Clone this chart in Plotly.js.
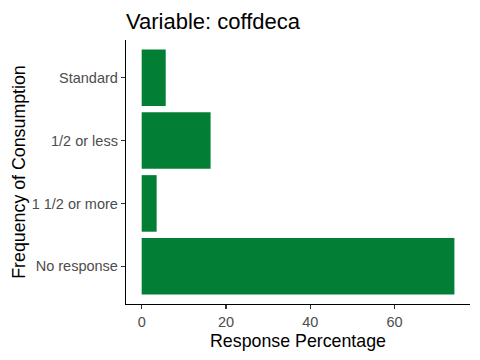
<!DOCTYPE html>
<html><head><meta charset="utf-8">
<script src="https://cdn.plot.ly/plotly-3.0.1.min.js"></script>
<style>html,body{margin:0;padding:0;background:#fff}#c{width:480px;height:360px}</style>
</head><body><div id="c"></div>
<script>
var categories = ["No response", "1 1/2 or more", "1/2 or less", "Standard"];
var percentages = [74.2, 3.55, 16.35, 5.7];
var xTicks = [0, 20, 40, 60];
var barColor = "#027f34";

var trace = {
  type: "bar", orientation: "h",
  y: categories, x: percentages,
  marker: {color: barColor}, width: 0.9, hoverinfo: "none"
};
var layout = {
  width: 480, height: 360,
  margin: {l: 126, r: 10, t: 40, b: 56},
  paper_bgcolor: "#fff", plot_bgcolor: "#fff",
  font: {family: "Liberation Sans, Arial, sans-serif"},
  title: {text: "Variable: coffdeca", x: 126/480, xanchor: "left", y: 1 - 29/360, yanchor: "bottom",
          font: {size: 22, color: "#000"}},
  xaxis: {
    range: [-3.72, 77.9], tickvals: xTicks, ticktext: xTicks.map(String),
    showgrid: false, zeroline: false, showline: true, linecolor: "#000", linewidth: 1.2,
    ticks: "outside", ticklen: 4, tickcolor: "#333", tickwidth: 1.1,
    tickfont: {size: 14.5, color: "#4d4d4d"},
    title: {text: "Response Percentage", font: {size: 17.8, color: "#000"}, standoff: 6}
  },
  yaxis: {
    range: [-0.6, 3.6], type: "category", categoryorder: "array", categoryarray: categories,
    showgrid: false, zeroline: false, showline: true, linecolor: "#000", linewidth: 1.2,
    ticks: "outside", ticklen: 4, tickcolor: "#333", tickwidth: 1.1,
    tickfont: {size: 14.5, color: "#4d4d4d"},
    title: {text: "Frequency of Consumption", font: {size: 17.8, color: "#000"}, standoff: 1}
  },
  showlegend: false
};
Plotly.newPlot("c", [trace], layout, {staticPlot: true});
</script></body></html>
